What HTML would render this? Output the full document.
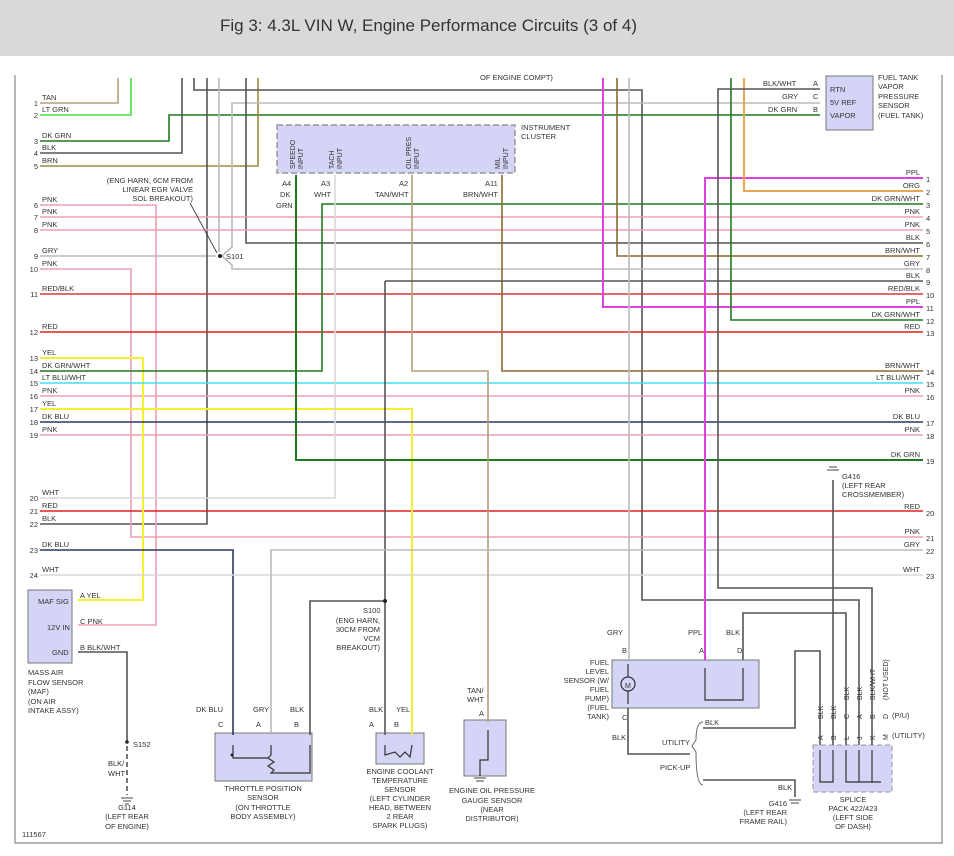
<!DOCTYPE html>
<html><head><meta charset="utf-8"><style>
html,body{margin:0;padding:0;background:#fff;}
svg{display:block;font-family:"Liberation Sans",sans-serif;}
</style></head><body>
<svg width="954" height="856" viewBox="0 0 954 856" xmlns="http://www.w3.org/2000/svg">
<rect x="0" y="0" width="954" height="56" fill="#d9d9d9"/>
<text x="220" y="31" font-size="17" fill="#333">Fig 3: 4.3L VIN W, Engine Performance Circuits (3 of 4)</text>
<g stroke="#888" stroke-width="1.2" fill="none">
<polyline points="15,75 15,843 942,843 942,75"/>
</g>
<g fill="#d4d4f6" stroke="#777" stroke-width="1">
<rect x="277" y="125" width="238" height="48" stroke-dasharray="6,3" stroke-width="1.5" stroke="#999"/>
<rect x="826" y="76" width="47" height="54"/>
<rect x="28" y="590" width="44" height="73"/>
<rect x="215" y="733" width="97" height="48"/>
<rect x="376" y="733" width="48" height="31"/>
<rect x="464" y="720" width="42" height="56"/>
<rect x="612" y="660" width="147" height="48"/>
<rect x="813" y="745" width="79" height="47" stroke-dasharray="5,3" stroke="#999"/>
</g>
<g fill="none" stroke-width="1.6" stroke-linejoin="miter">
<polyline stroke="#b0a07a" points="40,103 118,103 118,78"/>
<polyline stroke="#44e044" points="40,115 131,115 131,78"/>
<polyline stroke="#1f7a1f" points="40,141 169,141 169,115 820,115"/>
<polyline stroke="#555" points="40,153 182,153 182,78"/>
<polyline stroke="#a08a40" points="40,166 258,166 258,78"/>
<polyline stroke="#555" points="194,78 194,90 642,90 642,600 859,600 859,745"/>
<polyline stroke="#bbb" points="219,78 219,252"/>
<polyline stroke="#bbb" points="40,256 216,256"/>
<polyline stroke="#bbb" points="820,103 232,103 232,247 222,256 232,265 232,269 923,269"/>
<polyline stroke="#555" points="246,78 246,243 923,243"/>
<polyline stroke="#555" points="207,78 207,524 40,524"/>
<polyline stroke="#f0a0b0" points="40,205 156,205 156,625 78,625"/>
<polyline stroke="#f0a0b0" points="40,217 923,217"/>
<polyline stroke="#f0a0b0" points="40,230 923,230"/>
<polyline stroke="#f0a0b0" points="40,269 131,269 131,537 923,537"/>
<polyline stroke="#f0a0b0" points="40,396 923,396"/>
<polyline stroke="#f0a0b0" points="40,435 923,435"/>
<polyline stroke="#d83838" points="40,294 923,294"/>
<polyline stroke="#e02020" points="40,332 923,332"/>
<polyline stroke="#e02020" points="40,511 923,511"/>
<polyline stroke="#f4f030" stroke-width="2" points="40,358 143,358 143,600 78,600"/>
<polyline stroke="#f4f030" stroke-width="2" points="40,409 412,409 412,735"/>
<polyline stroke="#1f7a1f" points="40,371 322,371 322,204 923,204"/>
<polyline stroke="#40e0f0" points="40,383 923,383"/>
<polyline stroke="#2a3a60" points="40,422 923,422"/>
<polyline stroke="#2a3a60" points="40,550 233,550 233,735"/>
<polyline stroke="#d8d8d8" points="335,175 335,498 40,498"/>
<polyline stroke="#d8d8d8" points="40,575 923,575"/>
<polyline stroke="#1f7a1f" stroke-width="2" points="296,175 296,460 923,460"/>
<polyline stroke="#b0a07a" points="412,175 412,371 488,371 488,722"/>
<polyline stroke="#8a6a30" points="502,175 502,371 923,371"/>
<polyline stroke="#8a6a30" points="617,78 617,256 923,256"/>
<polyline stroke="#555" points="385,281 923,281"/>
<polyline stroke="#555" points="385,281 385,735"/>
<polyline stroke="#555" points="385,601 310,601 310,735"/>
<polyline stroke="#bbb" points="271,735 271,550 923,550"/>
<polyline stroke="#e040e0" stroke-width="2" points="603,78 603,307 923,307"/>
<polyline stroke="#e040e0" stroke-width="2" points="705,660 705,178 923,178"/>
<polyline stroke="#e8a850" stroke-width="2" points="744,78 744,191 923,191"/>
<polyline stroke="#1f7a1f" points="731,78 731,320 923,320"/>
<polyline stroke="#bbb" points="629,78 629,660"/>
<polyline stroke="#555" points="820,89 718,89 718,588 872,588 872,745"/>
<polyline stroke="#555" points="833,480 833,745"/>
<polyline stroke="#555" points="743,660 743,613 846,613 846,745"/>
<polyline stroke="#555" points="628,708 628,754 690,754"/>
<polyline stroke="#555" points="703,728 795,728 795,651 820,651 820,745"/>
<polyline stroke="#555" points="703,780 795,780 795,797"/>
<polyline stroke="#555" points="78,652 127,652 127,742"/>
<polyline stroke="#555" stroke-dasharray="5,3" points="127,746 127,795"/>
</g>
<g stroke="#333" fill="none" stroke-width="1.2">
<polyline points="820,750 820,782 833,782 833,750"/>
<polyline points="846,750 846,782 881,782"/>
<line x1="859" y1="750" x2="859" y2="782"/><line x1="872" y1="750" x2="872" y2="782"/>
<polyline points="233,745 233,758 268,758"/>
<polyline points="271,745 271,755 268,758 274,762 268,766 274,770 271,773 310,773 310,745"/>
<polyline points="385,745 385,755 395,752 400,757 405,752 410,757 412,745"/>
<polyline points="488,730 488,760 480,760 480,776"/>
<polyline points="705,668 705,700 743,700 743,668"/>
<circle cx="628" cy="684" r="7"/>
<line x1="628" y1="664" x2="628" y2="677"/><line x1="628" y1="691" x2="628" y2="704"/>
</g>
<g fill="#222">
<circle cx="220" cy="256" r="2"/><circle cx="385" cy="601" r="2"/><circle cx="127" cy="742" r="1.8"/>
<circle cx="232" cy="755" r="1.5"/>
</g>
<g stroke="#444" stroke-width="1">
<line x1="121" y1="798" x2="133" y2="798"/><line x1="123" y1="801" x2="131" y2="801"/><line x1="125" y1="804" x2="129" y2="804"/>
<line x1="789" y1="800" x2="801" y2="800"/><line x1="791" y1="803" x2="799" y2="803"/>
<line x1="827" y1="470" x2="839" y2="470"/><line x1="829" y1="467" x2="837" y2="467"/>
<line x1="474" y1="778" x2="486" y2="778"/><line x1="476" y1="781" x2="484" y2="781"/>
</g>
<g font-size="7.5" fill="#333">
<g text-anchor="end">
<text x="38" y="106">1</text><text x="38" y="118">2</text><text x="38" y="144">3</text><text x="38" y="156">4</text><text x="38" y="169">5</text>
<text x="38" y="208">6</text><text x="38" y="220">7</text><text x="38" y="233">8</text><text x="38" y="259">9</text><text x="38" y="272">10</text>
<text x="38" y="297">11</text><text x="38" y="335">12</text><text x="38" y="361">13</text><text x="38" y="374">14</text><text x="38" y="386">15</text>
<text x="38" y="399">16</text><text x="38" y="412">17</text><text x="38" y="425">18</text><text x="38" y="438">19</text><text x="38" y="501">20</text>
<text x="38" y="514">21</text><text x="38" y="527">22</text><text x="38" y="553">23</text><text x="38" y="578">24</text>
</g>
<text x="42" y="100">TAN</text><text x="42" y="112">LT GRN</text><text x="42" y="138">DK GRN</text><text x="42" y="150">BLK</text><text x="42" y="163">BRN</text>
<text x="42" y="202">PNK</text><text x="42" y="214">PNK</text><text x="42" y="227">PNK</text><text x="42" y="253">GRY</text><text x="42" y="266">PNK</text>
<text x="42" y="291">RED/BLK</text><text x="42" y="329">RED</text><text x="42" y="355">YEL</text><text x="42" y="368">DK GRN/WHT</text><text x="42" y="380">LT BLU/WHT</text>
<text x="42" y="393">PNK</text><text x="42" y="406">YEL</text><text x="42" y="419">DK BLU</text><text x="42" y="432">PNK</text><text x="42" y="495">WHT</text>
<text x="42" y="508">RED</text><text x="42" y="521">BLK</text><text x="42" y="547">DK BLU</text><text x="42" y="572">WHT</text>
<g text-anchor="end">
<text x="920" y="175">PPL</text><text x="920" y="188">ORG</text><text x="920" y="201">DK GRN/WHT</text><text x="920" y="214">PNK</text><text x="920" y="227">PNK</text>
<text x="920" y="240">BLK</text><text x="920" y="253">BRN/WHT</text><text x="920" y="266">GRY</text><text x="920" y="278">BLK</text><text x="920" y="291">RED/BLK</text>
<text x="920" y="304">PPL</text><text x="920" y="317">DK GRN/WHT</text><text x="920" y="329">RED</text><text x="920" y="368">BRN/WHT</text><text x="920" y="380">LT BLU/WHT</text>
<text x="920" y="393">PNK</text><text x="920" y="419">DK BLU</text><text x="920" y="432">PNK</text><text x="920" y="457">DK GRN</text><text x="920" y="509">RED</text>
<text x="920" y="534">PNK</text><text x="920" y="547">GRY</text><text x="920" y="572">WHT</text>
</g>
<text x="926" y="182">1</text><text x="926" y="195">2</text><text x="926" y="208">3</text><text x="926" y="221">4</text><text x="926" y="234">5</text>
<text x="926" y="247">6</text><text x="926" y="260">7</text><text x="926" y="273">8</text><text x="926" y="285">9</text><text x="926" y="298">10</text>
<text x="926" y="311">11</text><text x="926" y="324">12</text><text x="926" y="336">13</text><text x="926" y="375">14</text><text x="926" y="387">15</text>
<text x="926" y="400">16</text><text x="926" y="426">17</text><text x="926" y="439">18</text><text x="926" y="464">19</text><text x="926" y="516">20</text>
<text x="926" y="541">21</text><text x="926" y="554">22</text><text x="926" y="579">23</text>
<text x="480" y="80">OF ENGINE COMPT)</text>
<g text-anchor="end"><text x="193" y="183">(ENG HARN, 6CM FROM</text><text x="193" y="192">LINEAR EGR VALVE</text><text x="193" y="201">SOL BREAKOUT)</text></g>
<line x1="190" y1="203" x2="217" y2="253" stroke="#333" stroke-width="0.8"/>
<text x="226" y="259">S101</text>
<text x="521" y="130">INSTRUMENT</text><text x="521" y="139">CLUSTER</text>
<g font-size="7">
<text transform="translate(295,169) rotate(-90)">SPEEDO</text><text transform="translate(303,169) rotate(-90)">INPUT</text>
<text transform="translate(334,169) rotate(-90)">TACH</text><text transform="translate(342,169) rotate(-90)">INPUT</text>
<text transform="translate(411,169) rotate(-90)">OIL PRES</text><text transform="translate(419,169) rotate(-90)">INPUT</text>
<text transform="translate(500,169) rotate(-90)">MIL</text><text transform="translate(508,169) rotate(-90)">INPUT</text>
</g>
<text x="282" y="186">A4</text><text x="280" y="197">DK</text><text x="276" y="208">GRN</text>
<text x="321" y="186">A3</text><text x="314" y="197">WHT</text>
<text x="399" y="186">A2</text><text x="375" y="197">TAN/WHT</text>
<text x="485" y="186">A11</text><text x="463" y="197">BRN/WHT</text>
<text x="763" y="86">BLK/WHT</text><text x="782" y="99">GRY</text><text x="768" y="112">DK GRN</text>
<text x="813" y="86">A</text><text x="813" y="99">C</text><text x="813" y="112">B</text>
<text x="830" y="92">RTN</text><text x="830" y="105">5V REF</text><text x="830" y="118">VAPOR</text>
<text x="878" y="80">FUEL TANK</text><text x="878" y="89">VAPOR</text><text x="878" y="99">PRESSURE</text><text x="878" y="108">SENSOR</text><text x="878" y="118">(FUEL TANK)</text>
<text x="842" y="479">G416</text><text x="842" y="488">(LEFT REAR</text><text x="842" y="497">CROSSMEMBER)</text>
<text x="38" y="604">MAF SIG</text><text x="47" y="630">12V IN</text><text x="52" y="655">GND</text>
<text x="80" y="598">A  YEL</text><text x="80" y="624">C  PNK</text><text x="80" y="650">B  BLK/WHT</text>
<text x="28" y="675">MASS AIR</text><text x="28" y="685">FLOW SENSOR</text><text x="28" y="694">(MAF)</text><text x="28" y="704">(ON AIR</text><text x="28" y="713">INTAKE ASSY)</text>
<text x="133" y="747">S152</text><text x="108" y="766">BLK/</text><text x="108" y="776">WHT</text>
<g text-anchor="middle"><text x="127" y="810">G114</text><text x="127" y="819">(LEFT REAR</text><text x="127" y="829">OF ENGINE)</text></g>
<text x="22" y="837">111567</text>
<text x="363" y="613">S100</text>
<g text-anchor="end"><text x="380" y="623">(ENG HARN,</text><text x="380" y="632">30CM FROM</text><text x="380" y="641">VCM</text><text x="380" y="650">BREAKOUT)</text></g>
<text x="196" y="712">DK BLU</text><text x="253" y="712">GRY</text><text x="290" y="712">BLK</text>
<text x="218" y="727">C</text><text x="256" y="727">A</text><text x="294" y="727">B</text>
<g text-anchor="middle"><text x="263" y="791">THROTTLE POSITION</text><text x="263" y="800">SENSOR</text><text x="263" y="810">(ON THROTTLE</text><text x="263" y="819">BODY ASSEMBLY)</text></g>
<text x="369" y="712">BLK</text><text x="396" y="712">YEL</text><text x="369" y="727">A</text><text x="394" y="727">B</text>
<g text-anchor="middle"><text x="400" y="774">ENGINE COOLANT</text><text x="400" y="783">TEMPERATURE</text><text x="400" y="792">SENSOR</text><text x="400" y="801">(LEFT CYLINDER</text><text x="400" y="810">HEAD, BETWEEN</text><text x="400" y="819">2 REAR</text><text x="400" y="828">SPARK PLUGS)</text></g>
<text x="467" y="693">TAN/</text><text x="467" y="702">WHT</text><text x="479" y="716">A</text>
<g text-anchor="middle"><text x="492" y="793">ENGINE OIL PRESSURE</text><text x="492" y="803">GAUGE SENSOR</text><text x="492" y="812">(NEAR</text><text x="492" y="821">DISTRIBUTOR)</text></g>
<text x="607" y="635">GRY</text><text x="688" y="635">PPL</text><text x="726" y="635">BLK</text>
<text x="622" y="653">B</text><text x="699" y="653">A</text><text x="737" y="653">D</text>
<g text-anchor="end"><text x="609" y="665">FUEL</text><text x="609" y="674">LEVEL</text><text x="609" y="683">SENSOR (W/</text><text x="609" y="692">FUEL</text><text x="609" y="701">PUMP)</text><text x="609" y="710">(FUEL</text><text x="609" y="719">TANK)</text></g>
<text x="622" y="720">C</text><text x="612" y="740">BLK</text>
<text x="705" y="725">BLK</text><text x="662" y="745">UTILITY</text><text x="660" y="770">PICK-UP</text><text x="778" y="790">BLK</text>
<path d="M703,722 Q696,722 696,740 L692,746 L696,752 Q696,785 703,785" fill="none" stroke="#666" stroke-width="1"/>
<g text-anchor="end"><text x="787" y="806">G416</text><text x="787" y="815">(LEFT REAR</text><text x="787" y="824">FRAME RAIL)</text></g>
<g text-anchor="middle"><text x="853" y="802">SPLICE</text><text x="853" y="811">PACK 422/423</text><text x="853" y="820">(LEFT SIDE</text><text x="853" y="829">OF DASH)</text></g>
<g font-size="7">
<text transform="translate(823,719) rotate(-90)">BLK</text><text transform="translate(836,719) rotate(-90)">BLK</text>
<text transform="translate(849,700) rotate(-90)">BLK</text><text transform="translate(862,700) rotate(-90)">BLK</text>
<text transform="translate(875,700) rotate(-90)">BLK/WHT</text><text transform="translate(888,700) rotate(-90)">(NOT USED)</text>
<text transform="translate(849,719) rotate(-90)">C</text>
<text transform="translate(862,719) rotate(-90)">A</text><text transform="translate(875,719) rotate(-90)">B</text><text transform="translate(888,719) rotate(-90)">D</text>
<text transform="translate(823,740) rotate(-90)">A</text><text transform="translate(836,740) rotate(-90)">B</text><text transform="translate(849,740) rotate(-90)">L</text>
<text transform="translate(862,740) rotate(-90)">J</text><text transform="translate(875,740) rotate(-90)">K</text><text transform="translate(888,740) rotate(-90)">M</text>
</g>
<text x="892" y="718">(P/U)</text><text x="892" y="738">(UTILITY)</text>
<text x="625" y="688" font-size="7">M</text>
</g>
</svg>
</body></html>
